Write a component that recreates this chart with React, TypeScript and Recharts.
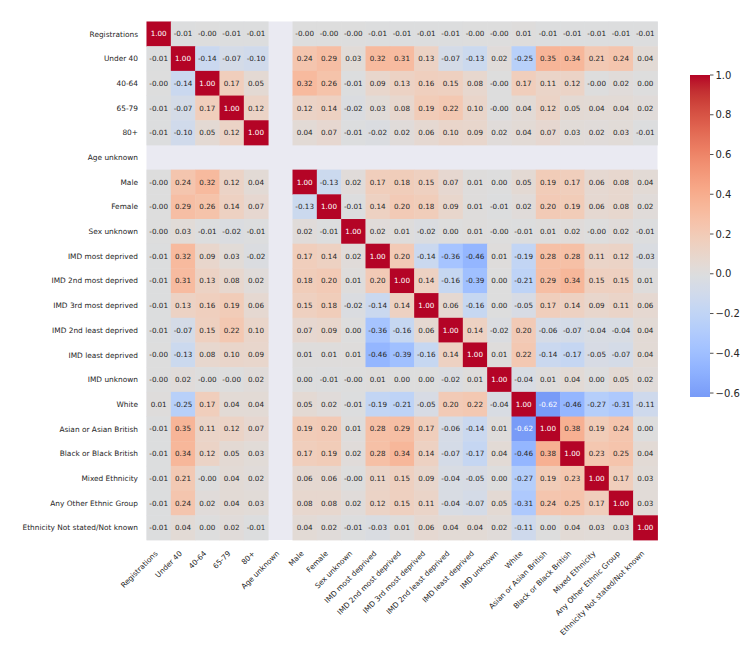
import React from 'react';
import {
  ScatterChart,
  Scatter,
  XAxis,
  YAxis,
  CartesianGrid,
  BarChart,
  Bar,
} from 'recharts';

const N = null;

const labels = [
  'Registrations',
  'Under 40',
  '40-64',
  '65-79',
  '80+',
  'Age unknown',
  'Male',
  'Female',
  'Sex unknown',
  'IMD most deprived',
  'IMD 2nd most deprived',
  'IMD 3rd most deprived',
  'IMD 2nd least deprived',
  'IMD least deprived',
  'IMD unknown',
  'White',
  'Asian or Asian British',
  'Black or Black British',
  'Mixed Ethnicity',
  'Any Other Ethnic Group',
  'Ethnicity Not stated/Not known',
];

// correlation rows, same order as labels (-0.001 prints as "-0.00")
const registrations = [1.0, -0.01, -0.001, -0.01, -0.01, N, -0.001, -0.001, -0.001, -0.01, -0.01, -0.01, -0.01, -0.001, -0.001, 0.01, -0.01, -0.01, -0.01, -0.01, -0.01];
const under40 = [-0.01, 1.0, -0.14, -0.07, -0.1, N, 0.24, 0.29, 0.03, 0.32, 0.31, 0.13, -0.07, -0.13, 0.02, -0.25, 0.35, 0.34, 0.21, 0.24, 0.04];
const age40to64 = [-0.001, -0.14, 1.0, 0.17, 0.05, N, 0.32, 0.26, -0.01, 0.09, 0.13, 0.16, 0.15, 0.08, -0.001, 0.17, 0.11, 0.12, -0.001, 0.02, 0.0];
const age65to79 = [-0.01, -0.07, 0.17, 1.0, 0.12, N, 0.12, 0.14, -0.02, 0.03, 0.08, 0.19, 0.22, 0.1, -0.001, 0.04, 0.12, 0.05, 0.04, 0.04, 0.02];
const age80plus = [-0.01, -0.1, 0.05, 0.12, 1.0, N, 0.04, 0.07, -0.01, -0.02, 0.02, 0.06, 0.1, 0.09, 0.02, 0.04, 0.07, 0.03, 0.02, 0.03, -0.01];
const ageUnknown = [N, N, N, N, N, N, N, N, N, N, N, N, N, N, N, N, N, N, N, N, N];
const male = [-0.001, 0.24, 0.32, 0.12, 0.04, N, 1.0, -0.13, 0.02, 0.17, 0.18, 0.15, 0.07, 0.01, 0.0, 0.05, 0.19, 0.17, 0.06, 0.08, 0.04];
const female = [-0.001, 0.29, 0.26, 0.14, 0.07, N, -0.13, 1.0, -0.01, 0.14, 0.2, 0.18, 0.09, 0.01, -0.01, 0.02, 0.2, 0.19, 0.06, 0.08, 0.02];
const sexUnknown = [-0.001, 0.03, -0.01, -0.02, -0.01, N, 0.02, -0.01, 1.0, 0.02, 0.01, -0.02, 0.0, 0.01, -0.001, -0.01, 0.01, 0.02, -0.001, 0.02, -0.01];
const imdMost = [-0.01, 0.32, 0.09, 0.03, -0.02, N, 0.17, 0.14, 0.02, 1.0, 0.2, -0.14, -0.36, -0.46, 0.01, -0.19, 0.28, 0.28, 0.11, 0.12, -0.03];
const imd2ndMost = [-0.01, 0.31, 0.13, 0.08, 0.02, N, 0.18, 0.2, 0.01, 0.2, 1.0, 0.14, -0.16, -0.39, 0.0, -0.21, 0.29, 0.34, 0.15, 0.15, 0.01];
const imd3rdMost = [-0.01, 0.13, 0.16, 0.19, 0.06, N, 0.15, 0.18, -0.02, -0.14, 0.14, 1.0, 0.06, -0.16, 0.0, -0.05, 0.17, 0.14, 0.09, 0.11, 0.06];
const imd2ndLeast = [-0.01, -0.07, 0.15, 0.22, 0.1, N, 0.07, 0.09, 0.0, -0.36, -0.16, 0.06, 1.0, 0.14, -0.02, 0.2, -0.06, -0.07, -0.04, -0.04, 0.04];
const imdLeast = [-0.001, -0.13, 0.08, 0.1, 0.09, N, 0.01, 0.01, 0.01, -0.46, -0.39, -0.16, 0.14, 1.0, 0.01, 0.22, -0.14, -0.17, -0.05, -0.07, 0.04];
const imdUnknown = [-0.001, 0.02, -0.001, -0.001, 0.02, N, 0.0, -0.01, -0.001, 0.01, 0.0, 0.0, -0.02, 0.01, 1.0, -0.04, 0.01, 0.04, 0.0, 0.05, 0.02];
const white = [0.01, -0.25, 0.17, 0.04, 0.04, N, 0.05, 0.02, -0.01, -0.19, -0.21, -0.05, 0.2, 0.22, -0.04, 1.0, -0.62, -0.46, -0.27, -0.31, -0.11];
const asian = [-0.01, 0.35, 0.11, 0.12, 0.07, N, 0.19, 0.2, 0.01, 0.28, 0.29, 0.17, -0.06, -0.14, 0.01, -0.62, 1.0, 0.38, 0.19, 0.24, 0.0];
const black = [-0.01, 0.34, 0.12, 0.05, 0.03, N, 0.17, 0.19, 0.02, 0.28, 0.34, 0.14, -0.07, -0.17, 0.04, -0.46, 0.38, 1.0, 0.23, 0.25, 0.04];
const mixed = [-0.01, 0.21, -0.001, 0.04, 0.02, N, 0.06, 0.06, -0.001, 0.11, 0.15, 0.09, -0.04, -0.05, 0.0, -0.27, 0.19, 0.23, 1.0, 0.17, 0.03];
const otherEthnic = [-0.01, 0.24, 0.02, 0.04, 0.03, N, 0.08, 0.08, 0.02, 0.12, 0.15, 0.11, -0.04, -0.07, 0.05, -0.31, 0.24, 0.25, 0.17, 1.0, 0.03];
const notStated = [-0.01, 0.04, 0.0, 0.02, -0.01, N, 0.04, 0.02, -0.01, -0.03, 0.01, 0.06, 0.04, 0.04, 0.02, -0.11, 0.0, 0.04, 0.03, 0.03, 1.0];

const rows = [
  registrations, under40, age40to64, age65to79, age80plus, ageUnknown,
  male, female, sexUnknown,
  imdMost, imd2ndMost, imd3rdMost, imd2ndLeast, imdLeast, imdUnknown,
  white, asian, black, mixed, otherEthnic, notStated,
];

const colorbarTicks = [-0.6, -0.4, -0.2, 0, 0.2, 0.4, 0.6, 0.8, 1.0];
const V_MIN = -0.62;
const V_MAX = 1.0;

// coolwarm control points (33 steps)
const COOLWARM = [
  [59, 76, 192], [68, 90, 204], [77, 104, 215], [87, 117, 225], [98, 130, 234],
  [108, 142, 241], [119, 154, 247], [130, 165, 251], [141, 176, 254], [152, 185, 255],
  [163, 194, 255], [174, 201, 253], [184, 208, 249], [194, 213, 244], [204, 217, 238],
  [213, 219, 230], [221, 221, 221], [229, 216, 209], [236, 211, 197], [241, 204, 184],
  [245, 196, 172], [247, 187, 159], [247, 177, 147], [247, 166, 134], [244, 154, 123],
  [241, 141, 111], [236, 127, 99], [229, 112, 89], [222, 96, 77], [213, 80, 67],
  [203, 62, 56], [192, 40, 47], [180, 4, 38],
];

function coolwarmRgb(t: number) {
  const p = Math.min(Math.max(t, 0), 1) * (COOLWARM.length - 1);
  const i = Math.min(Math.floor(p), COOLWARM.length - 2);
  const f = p - i;
  const a = COOLWARM[i];
  const b = COOLWARM[i + 1];
  return [0, 1, 2].map((k) => a[k] + (b[k] - a[k]) * f);
}

// centred at 0, so the map runs over [-1, 1]
function valueRgb(v: number) {
  return coolwarmRgb((v + 1) / 2);
}

const toCss = (rgb: number[]) => `rgb(${rgb.map((c) => Math.round(c)).join(',')})`;

function luminance(rgb: number[]) {
  const lin = rgb.map((c) => {
    const s = c / 255;
    return s <= 0.03928 ? s / 12.92 : Math.pow((s + 0.055) / 1.055, 2.4);
  });
  return 0.2126 * lin[0] + 0.7152 * lin[1] + 0.0722 * lin[2];
}

const cells = rows.flatMap((row, r) =>
  row
    .map((v, c) => ({ x: c + 0.5, y: r + 0.5, v }))
    .filter((d) => d.v !== null)
);

const FONT = 'DejaVu Sans';
const TEXT = '#262626';
const PLOT_LEFT = 146.5;
const PLOT_TOP = 21.5;
const PLOT_RIGHT = 657.5;
const PLOT_BOTTOM = 540;
const CELL_W = (PLOT_RIGHT - PLOT_LEFT) / labels.length;
const CELL_H = (PLOT_BOTTOM - PLOT_TOP) / labels.length;
const centers = labels.map((_, i) => i + 0.5);

const HeatCell = (props: any) => {
  const { cx, cy, payload } = props;
  const rgb = valueRgb(payload.v);
  const txt = luminance(rgb) > 0.408 ? TEXT : '#ffffff';
  return (
    <g>
      <rect
        x={cx - CELL_W / 2}
        y={cy - CELL_H / 2}
        width={CELL_W + 0.4}
        height={CELL_H + 0.4}
        fill={toCss(rgb)}
      />
      <text
        x={cx}
        y={cy}
        dy={2.6}
        textAnchor="middle"
        fontSize={7.2}
        fontFamily={FONT}
        fill={txt}
      >
        {payload.v.toFixed(2)}
      </text>
    </g>
  );
};

const XTick = (props: any) => {
  const { x, y, payload } = props;
  const ax = x - 0.5;
  const ay = y + 14;
  return (
    <text
      x={ax}
      y={ay}
      transform={`rotate(-45 ${ax} ${ay})`}
      textAnchor="end"
      fontSize={7.4}
      fontFamily={FONT}
      fill={TEXT}
    >
      {labels[Math.floor(payload.value)]}
    </text>
  );
};

const YTick = (props: any) => {
  const { x, y, payload } = props;
  return (
    <text
      x={x - 8.5}
      y={y}
      dy={2.7}
      textAnchor="end"
      fontSize={7.4}
      fontFamily={FONT}
      fill={TEXT}
    >
      {labels[Math.floor(payload.value)]}
    </text>
  );
};

const CB_TOP = 74.5;
const CB_BOTTOM = 396.5;
const CB_PAD = 10;
const gradientStops = Array.from({ length: 41 }, (_, i) => {
  const v = V_MIN + ((V_MAX - V_MIN) * i) / 40;
  return { offset: i / 40, color: toCss(valueRgb(v)) };
});
const colorbarData = [{ name: 'scale', range: [V_MIN, V_MAX] }];

const CbTick = (props: any) => {
  const { x, y, payload } = props;
  return (
    <text x={x} y={y} dy={3.6} fontSize={10} fontFamily={FONT} fill={TEXT}>
      {payload.value.toFixed(1).replace('-', '\u2212')}
    </text>
  );
};

export default function App() {
  return (
    <div
      style={{
        position: 'absolute',
        left: 0,
        top: 0,
        width: 750,
        height: 658,
        background: '#ffffff',
        fontFamily: FONT,
      }}
    >
      <ScatterChart
        width={750}
        height={658}
        margin={{ top: PLOT_TOP, right: 750 - PLOT_RIGHT, bottom: 0, left: 0 }}
      >
        <CartesianGrid
          fill="#eaeaf2"
          fillOpacity={1}
          stroke="none"
          horizontal={false}
          vertical={false}
        />
        <XAxis
          type="number"
          dataKey="x"
          domain={[0, labels.length]}
          ticks={centers}
          interval={0}
          height={658 - PLOT_BOTTOM}
          axisLine={false}
          tickLine={false}
          tickSize={0}
          tickMargin={0}
          tick={<XTick />}
        />
        <YAxis
          type="number"
          dataKey="y"
          domain={[0, labels.length]}
          reversed
          ticks={centers}
          interval={0}
          width={PLOT_LEFT}
          axisLine={false}
          tickLine={false}
          tickSize={0}
          tickMargin={0}
          tick={<YTick />}
        />
        <Scatter data={cells} shape={<HeatCell />} isAnimationActive={false} />
      </ScatterChart>

      <div style={{ position: 'absolute', left: 690, top: CB_TOP - CB_PAD }}>
        <BarChart
          width={60}
          height={CB_BOTTOM - CB_TOP + 2 * CB_PAD}
          data={colorbarData}
          barCategoryGap={0}
          margin={{ top: CB_PAD, right: 0, bottom: CB_PAD, left: 0 }}
        >
          <defs>
            <linearGradient id="cbGrad" x1="0" y1="1" x2="0" y2="0">
              {gradientStops.map((s) => (
                <stop key={s.offset} offset={s.offset} stopColor={s.color} />
              ))}
            </linearGradient>
          </defs>
          <XAxis dataKey="name" hide />
          <YAxis
            orientation="right"
            type="number"
            domain={[V_MIN, V_MAX]}
            ticks={colorbarTicks}
            interval={0}
            width={40}
            axisLine={false}
            tickLine={{ stroke: TEXT, strokeWidth: 0.8 }}
            tickSize={3.5}
            tickMargin={2}
            tick={<CbTick />}
            allowDataOverflow
          />
          <Bar dataKey="range" fill="url(#cbGrad)" isAnimationActive={false} />
        </BarChart>
      </div>
    </div>
  );
}
